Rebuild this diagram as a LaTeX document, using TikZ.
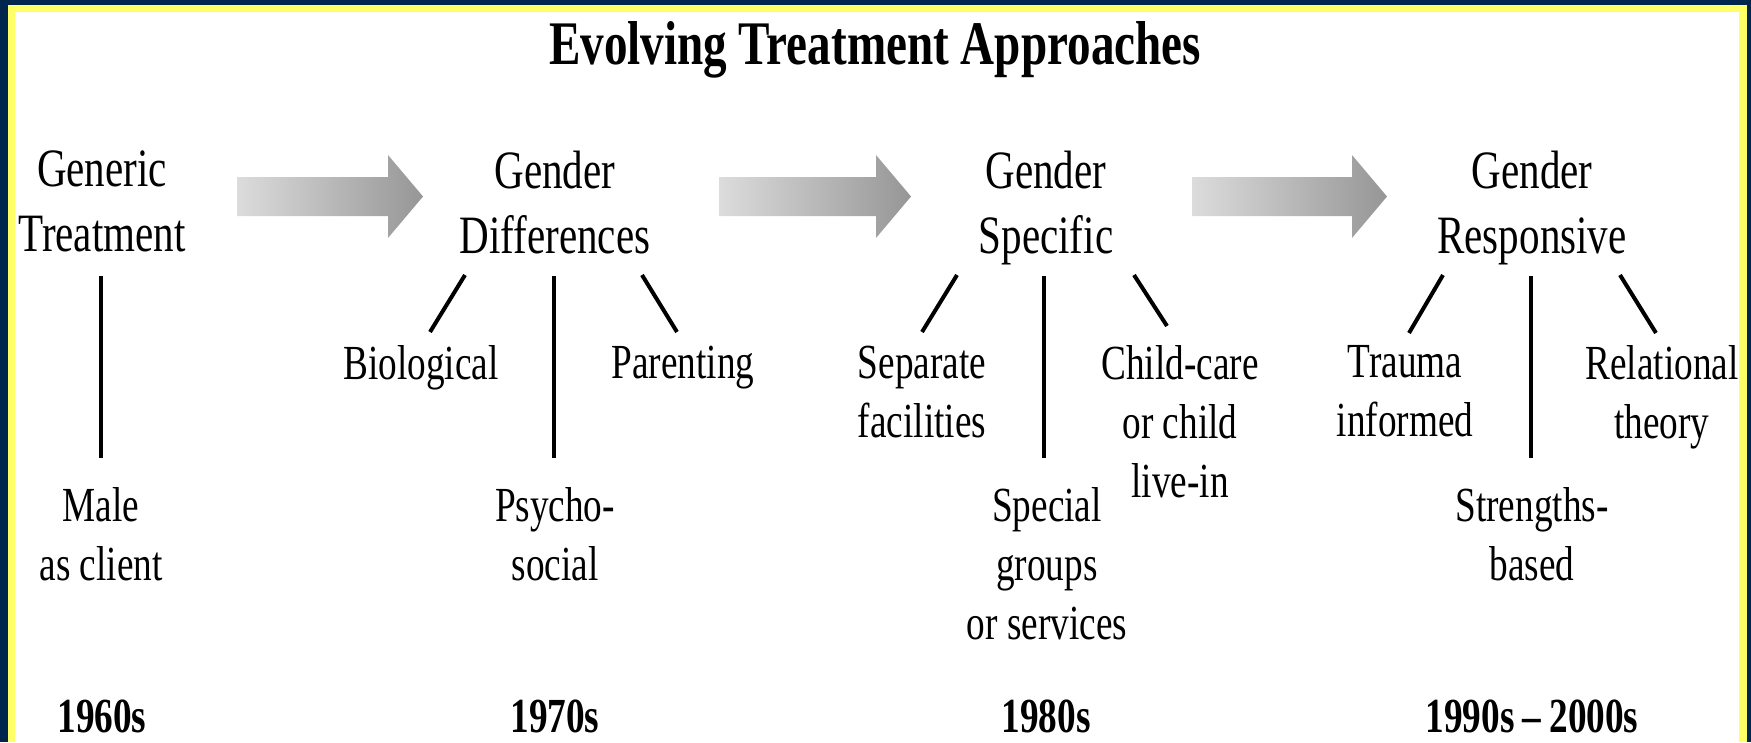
\documentclass[tikz,border=0pt]{standalone}
\usepackage{fontspec}
\setmainfont[FakeStretch=0.76]{Liberation Serif}
\definecolor{navy}{RGB}{0,38,77}
\definecolor{yel}{RGB}{255,255,102}
\definecolor{arL}{RGB}{220,220,220}
\definecolor{arR}{RGB}{150,150,150}
\tikzset{
  head/.style={font=\fontsize{54}{65}\selectfont, align=center, inner sep=0pt, anchor=north},
  lab/.style={font=\fontsize{49}{59}\selectfont, align=center, inner sep=0pt, anchor=north},
  yr/.style={font=\bfseries\fontsize{49}{60}\selectfont, inner sep=0pt, anchor=base, text depth=0pt},
  ttl/.style={font=\bfseries\fontsize{62}{74}\selectfont, inner sep=0pt, anchor=base},
  conn/.style={line width=4pt},
  bigarrow/.style={left color=arL, right color=arR},
}
\begin{document}
\begin{tikzpicture}[x=1pt,y=-1pt]
\useasboundingbox (0,0) rectangle (1751,742);
\fill[navy] (0,0) rectangle (1751,742);
\fill[yel] (8,5) rectangle (1747,742);
\fill[white] (15,12) rectangle (1739,742);

% title
\node[ttl] (title) at (875,64) {Evolving Treatment Approaches};

% headings
\node[head] (h1) at (102,151) {Generic\\Treatment};
\node[head] (h2) at (555,151) {Gender\\Differences};
\node[head] (h3) at (1046,151) {Gender\\Specific};
\node[head] (h4) at (1532,151) {Gender\\Responsive};

% big arrows
\shade[bigarrow] (237,177) -- (388,177) -- (388,155) -- (423,196.5) -- (388,238) -- (388,216) -- (237,216) -- cycle;
\shade[bigarrow] (719,177) -- (876,177) -- (876,155) -- (911,196.5) -- (876,238) -- (876,216) -- (719,216) -- cycle;
\shade[bigarrow] (1192,177) -- (1352,177) -- (1352,155) -- (1387,196.5) -- (1352,238) -- (1352,216) -- (1192,216) -- cycle;

% labels
\node[lab] (male) at (101,487.5) {Male\\as client};
\node[lab] (bio) at (421,345.5) {Biological};
\node[lab] (par) at (683,345.5) {Parenting};
\node[lab] (psy) at (555,487.5) {Psycho-\\social};
\node[lab] (sep) at (922,345.5) {Separate\\facilities};
\node[lab] (child) at (1180,345.5) {Child-care\\or child\\live-in};
\node[lab] (spec) at (1047,487.5) {Special\\groups\\or services};
\node[lab] (trau) at (1405,345.5) {Trauma\\informed};
\node[lab] (rel) at (1662,345.5) {Relational\\theory};
\node[lab] (str) at (1532,487.5) {Strengths-\\based};

% years
\node[yr] (y1) at (102,732) {1960s};
\node[yr] (y2) at (555,732) {1970s};
\node[yr] (y3) at (1046,732) {1980s};
\node[yr] (y4) at (1532,732) {1990s\,--\,2000s};

% connector end points
\coordinate (c1a) at (101,276);  \coordinate (c1b) at (101,458);
\coordinate (c2a) at (465,275);  \coordinate (c2b) at (430,332);
\coordinate (c2c) at (554,276);  \coordinate (c2d) at (554,458);
\coordinate (c2e) at (642,275);  \coordinate (c2f) at (677,332);
\coordinate (c3a) at (957,275);  \coordinate (c3b) at (922,332);
\coordinate (c3c) at (1044,276); \coordinate (c3d) at (1044,458);
\coordinate (c3e) at (1134,275); \coordinate (c3f) at (1167,326);
\coordinate (c4a) at (1443,275); \coordinate (c4b) at (1409,333);
\coordinate (c4c) at (1531,276); \coordinate (c4d) at (1531,458);
\coordinate (c4e) at (1620,275); \coordinate (c4f) at (1656,333);

\draw[conn] (c1a) -- (c1b);
\draw[conn] (c2a) -- (c2b);
\draw[conn] (c2c) -- (c2d);
\draw[conn] (c2e) -- (c2f);
\draw[conn] (c3a) -- (c3b);
\draw[conn] (c3c) -- (c3d);
\draw[conn] (c3e) -- (c3f);
\draw[conn] (c4a) -- (c4b);
\draw[conn] (c4c) -- (c4d);
\draw[conn] (c4e) -- (c4f);
\end{tikzpicture}
\end{document}
